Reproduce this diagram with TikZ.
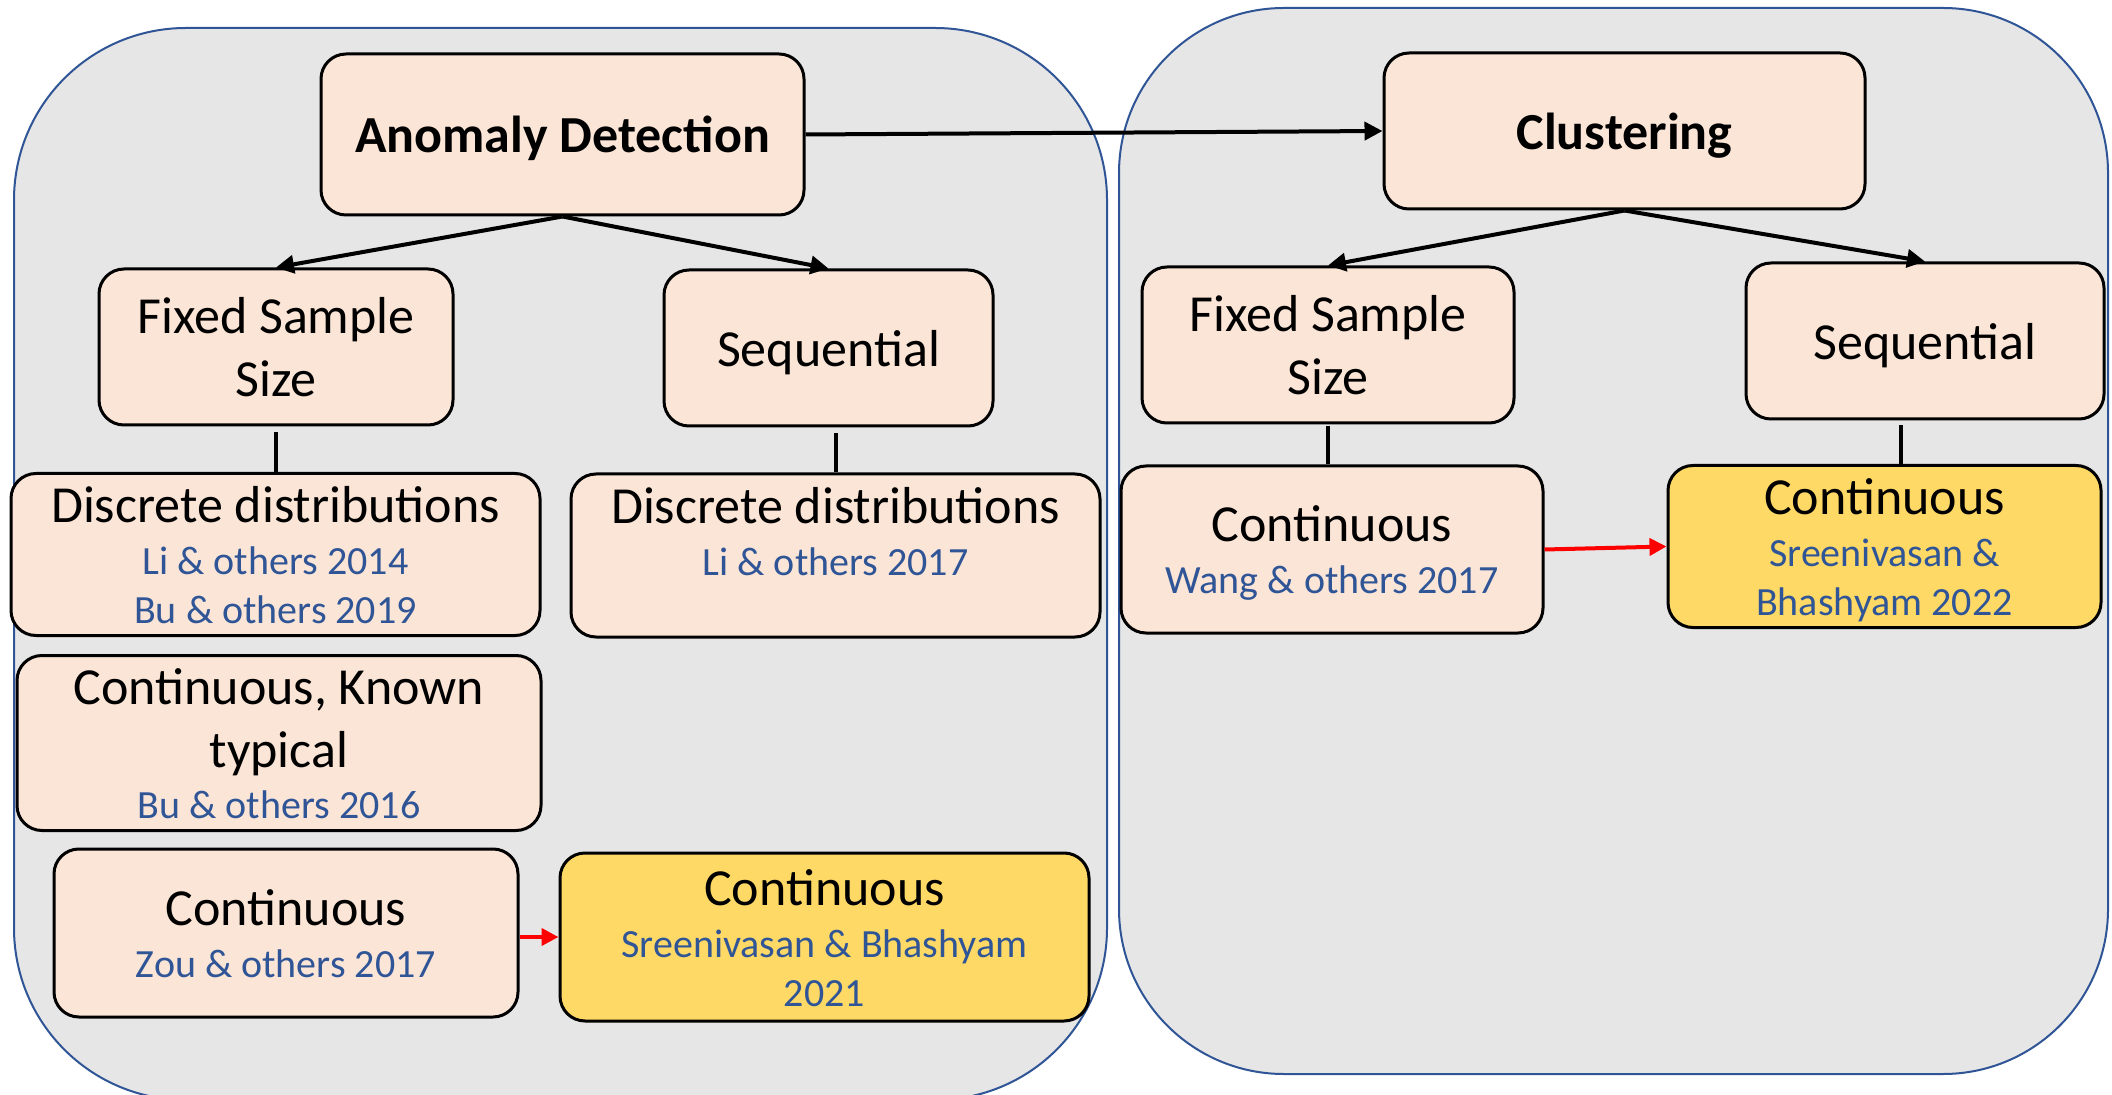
\documentclass[tikz,border=0pt]{standalone}
\usepackage{fontspec}
\setmainfont{Carlito}
\usetikzlibrary{arrows.meta}

\definecolor{panelfill}{HTML}{E7E6E6}
\definecolor{panelline}{HTML}{2F5597}
\definecolor{boxfill}{HTML}{FBE5D6}
\definecolor{goldfill}{HTML}{FFD966}
\definecolor{citeblue}{HTML}{2F5597}

% reference lines are set smaller and in blue
\newcommand{\reftxt}[1]{{\fontsize{20}{24}\selectfont\color{citeblue}#1}}
% full line-box struts so the text block is centred like a text frame
\newcommand{\topstrut}{\rule{0pt}{24.5pt}}
\newcommand{\botstrut}{\rule[-6pt]{0pt}{0pt}}

\tikzset{
  panel/.style={fill=panelfill, draw=panelline, line width=1pt},
  stage/.style={draw=black, line width=1.5pt, fill=boxfill, rounded corners=12.5pt,
    align=center, inner sep=0pt, font=\fontsize{26}{31.5}\selectfont},
  newwork/.style={stage, fill=goldfill},
  flow/.style={draw=black, line width=2pt, -{Triangle[length=9pt,width=9pt]}},
  link/.style={draw=black, line width=2pt},
  extend/.style={draw=red, line width=2pt, -{Triangle[length=8.5pt,width=8.5pt]}},
}

\begin{document}
\begin{tikzpicture}[x=0.5pt, y=-0.5pt]
\useasboundingbox (0,0) rectangle (2112,1095);
\fill[white] (0,0) rectangle (2112,1095);
\clip (0,0) rectangle (2112,1095);

% two grouping panels
\path[panel] (14,200) -- (14,928) arc[start angle=180,end angle=90,radius=172]
  -- (935,1100) arc[start angle=90,end angle=0,radius=172]
  -- (1107,200) arc[start angle=0,end angle=-90,radius=172]
  -- (186,28) arc[start angle=-90,end angle=-180,radius=172] -- cycle;
\path[panel] (1119,173) -- (1119,909) arc[start angle=180,end angle=90,radius=165]
  -- (1943,1074) arc[start angle=90,end angle=0,radius=165]
  -- (2108,173) arc[start angle=0,end angle=-90,radius=165]
  -- (1284,8) arc[start angle=-90,end angle=-180,radius=165] -- cycle;

% anomaly detection branch
\node[stage, minimum width=241.5pt, minimum height=80.5pt] (anom) at (562.5,134.5)
  {\topstrut\bfseries Anomaly Detection\botstrut};
\node[stage, minimum width=177pt, minimum height=78pt] (fixA) at (276,347)
  {\topstrut Fixed Sample\\Size\botstrut};
\node[stage, minimum width=164.5pt, minimum height=78pt] (seqA) at (828.5,348)
  {\topstrut Sequential\botstrut};
\node[stage, minimum width=264.5pt, minimum height=78.5pt] (discA) at (275.5,554.5)
  {\topstrut Discrete distributions\\[-5.5pt]\reftxt{Li \& others 2014}\\[-7pt]\reftxt{Bu \& others 2019}\botstrut};
\node[stage, minimum width=264.5pt, minimum height=81.5pt] (discB) at (835.5,555.5)
  {\topstrut Discrete distributions\\[-5.5pt]\reftxt{Li \& others 2017}\\[-7pt]\reftxt{\vphantom{B}}\botstrut};
\node[stage, minimum width=262pt, minimum height=84pt] (known) at (279,743)
  {\topstrut Continuous, Known\\typical\\[-6pt]\reftxt{Bu \& others 2016}\botstrut};
\node[stage, minimum width=232pt, minimum height=84pt] (contA) at (286,933)
  {\topstrut Continuous\\[-5.5pt]\reftxt{Zou \& others 2017}\botstrut};
\node[newwork, minimum width=264.5pt, minimum height=84pt] (newA) at (824.5,937)
  {\topstrut Continuous\\[-5.5pt]\reftxt{Sreenivasan \& Bhashyam}\\[-7pt]\reftxt{2021}\botstrut};

% clustering branch
\node[stage, minimum width=240.5pt, minimum height=78pt] (clus) at (1624.5,131)
  {\topstrut\bfseries Clustering\botstrut};
\node[stage, minimum width=186pt, minimum height=78pt] (fixB) at (1328,345)
  {\topstrut Fixed Sample\\Size\botstrut};
\node[stage, minimum width=179pt, minimum height=78pt] (seqB) at (1925,341)
  {\topstrut Sequential\botstrut};
\node[stage, minimum width=211pt, minimum height=83.5pt] (contB) at (1332,549.5)
  {\topstrut Continuous\\[-5.5pt]\reftxt{Wang \& others 2017}\botstrut};
\node[newwork, minimum width=216.5pt, minimum height=77.5pt] (newB) at (1884.5,546.5)
  {\topstrut Continuous\\[-5.5pt]\reftxt{Sreenivasan \&}\\[-7pt]\reftxt{Bhashyam 2022}\botstrut};

% connectors
\draw[flow] (anom.east) -- (clus.west);
\draw[flow] (anom.south) -- (fixA.north);
\draw[flow] (anom.south) -- (seqA.north);
\draw[flow] (clus.south) -- (fixB.north);
\draw[flow] (clus.south) -- (seqB.north);

\draw[link, shorten <=3pt] (fixA.south) -- (fixA.south |- discA.north);
\draw[link, shorten <=3pt] (seqA.south -| discB.north) -- (discB.north);
\draw[link, shorten <=1pt] (fixB.south) -- (fixB.south |- contB.north);
\draw[link, shorten <=2.5pt] ([xshift=-12pt]seqB.south) -- ([xshift=-12pt]seqB.south |- newB.north);

\draw[extend] (newA.west -| contA.east) -- (newA.west);
\draw[extend] (contB.east) -- (newB.west);
\end{tikzpicture}
\end{document}
